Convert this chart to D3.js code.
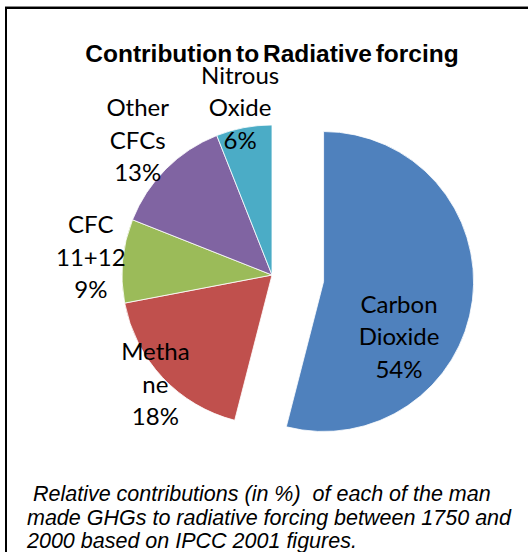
<!DOCTYPE html>
<html>
<head>
<meta charset="utf-8">
<script src="https://cdn.jsdelivr.net/npm/d3@7"></script>
<style>
  html, body { margin: 0; padding: 0; background: #fff; }
  svg { display: block; }
</style>
</head>
<body>
<script>
// ---- data ----
const categories = ["Carbon Dioxide", "Methane", "CFC 11+12", "Other CFCs", "Nitrous Oxide"];
const values = [54, 18, 9, 13, 6];
const labelNameLines = [["Carbon", "Dioxide"], ["Metha", "ne"], ["CFC", "11+12"], ["Other", "CFCs"], ["Nitrous", "Oxide"]];
const colors = ["#4F81BD", "#C0504D", "#9BBB59", "#8064A2", "#4BACC6"];
const titleText = "Contribution to Radiative forcing";
const captionLines = [
  " Relative contributions (in %)  of each of the man",
  "made GHGs to radiative forcing between 1750 and",
  "2000 based on IPCC 2001 figures."
];

// ---- layout ----
const W = 528, H = 552;
const cx = 272, cy = 275, R = 150;
const explode = [52, 0, 0, 0, 0];
// label placement: radial distance from pie centre (null = custom offset)
const labelRadius = [null, 160, 182, 190, 170];
const customLabelOffset = { 0: [127, 62] };

const svg = d3.select("body").append("svg")
  .attr("width", W).attr("height", H);

// frame
svg.append("rect")
  .attr("x", 6).attr("y", 8)
  .attr("width", W + 20).attr("height", H + 20)
  .attr("fill", "none").attr("stroke", "#000").attr("stroke-width", 2);
svg.append("line")
  .attr("x1", 5).attr("x2", W).attr("y1", 6.5).attr("y2", 6.5)
  .attr("stroke", "#888").attr("stroke-width", 1);

const data = categories.map((c, i) => ({ name: c, value: values[i], i }));
const pie = d3.pie().sort(null).value(d => d.value).startAngle(0).endAngle(2 * Math.PI);
const arcs = pie(data);
const arc = d3.arc().innerRadius(0).outerRadius(R);

const g = svg.append("g").attr("transform", `translate(${cx},${cy})`);

g.selectAll("path.slice").data(arcs).join("path")
  .attr("class", "slice")
  .attr("d", arc)
  .attr("fill", d => colors[d.data.i])
  .attr("stroke", "#fff").attr("stroke-width", 0.8)
  .attr("transform", d => {
    const a = (d.startAngle + d.endAngle) / 2;
    const e = explode[d.data.i];
    return `translate(${e * Math.sin(a)},${-e * Math.cos(a)})`;
  });

const labelFont = "Lato, 'Open Sans', sans-serif";
const lineH = 32.5;
arcs.forEach(d => {
  const i = d.data.i;
  let lx, ly;
  if (labelRadius[i] == null) {
    [lx, ly] = customLabelOffset[i];
  } else {
    const a = (d.startAngle + d.endAngle) / 2;
    lx = labelRadius[i] * Math.sin(a);
    ly = -labelRadius[i] * Math.cos(a);
  }
  const lines = labelNameLines[i].concat([d3.format(".0f")(d.value / d3.sum(values) * 100) + "%"]);
  const t = g.append("text")
    .attr("font-family", labelFont)
    .attr("font-size", 24)
    .attr("fill", "#000")
    .attr("text-anchor", "middle");
  lines.forEach((ln, k) => {
    t.append("tspan")
      .attr("x", lx)
      .attr("y", ly + (k - 1) * lineH + 8)
      .text(ln);
  });
});

// title
svg.append("text")
  .attr("x", 272).attr("y", 62)
  .attr("text-anchor", "middle")
  .attr("font-family", "'Liberation Sans', Arial, sans-serif")
  .attr("font-weight", "bold")
  .attr("font-size", 24.5)
  .attr("word-spacing", -3)
  .text(titleText);

// caption
const cap = svg.append("text")
  .attr("font-family", "'Liberation Sans', Arial, sans-serif")
  .attr("font-style", "italic")
  .attr("font-size", 21.5)
  .style("white-space", "pre");
captionLines.forEach((ln, k) => {
  cap.append("tspan").attr("x", 27).attr("y", 501 + k * 23.5).text(ln);
});
</script>
</body>
</html>
